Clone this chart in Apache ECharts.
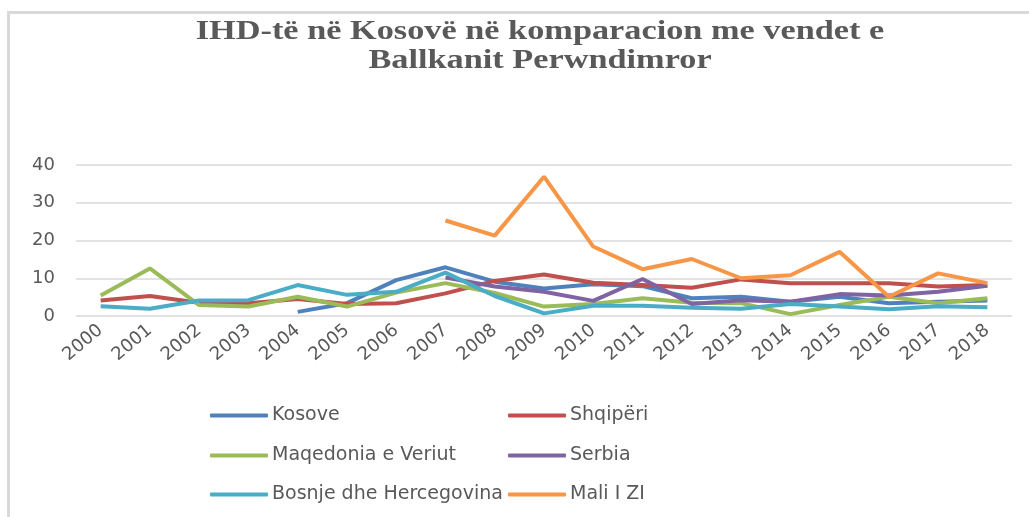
<!DOCTYPE html>
<html>
<head>
<meta charset="utf-8">
<script src="https://cdn.jsdelivr.net/npm/echarts@6/dist/echarts.min.js"></script>
<style>
  html, body { margin: 0; padding: 0; background: #fff; }
  #frame {
    position: absolute; left: 7px; top: 11px; width: 1040px; height: 530px;
    border-left: 3px solid #d9d9d9; border-top: 3px solid #d9d9d9;
  }
  #chart { position: absolute; left: 0; top: 0; width: 1029px; height: 517px; }
</style>
</head>
<body>
<div id="frame"></div>
<div id="chart"></div>
<script>
// vitet
const years = ["2000", "2001", "2002", "2003", "2004", "2005", "2006", "2007", "2008", "2009",
  "2010", "2011", "2012", "2013", "2014", "2015", "2016", "2017", "2018"];

// vlerat e lexuara nga grafiku
const kosove = [null, null, null, null, 1.1, 3.4, 9.5, 12.9, 9.1, 7.3, 8.4, 7.9, 4.7, 5.1, 3.8, 5.1, 3.4, 3.8, 4.1];
const shqiperi = [4.1, 5.3, 3.5, 3.4, 4.5, 3.2, 3.4, 6.0, 9.3, 11.0, 8.8, 8.2, 7.5, 9.7, 8.7, 8.7, 8.7, 7.8, 8.2];
const maqedonia = [5.4, 12.6, 2.9, 2.5, 5.1, 2.5, 6.2, 8.7, 6.1, 2.5, 3.2, 4.7, 3.5, 3.4, 0.5, 2.9, 5.1, 3.4, 4.7];
const serbia = [null, null, null, null, null, null, null, 10.2, 7.8, 6.4, 4.0, 9.8, 3.2, 4.2, 3.8, 5.8, 5.4, 6.4, 8.0];
const bosnje = [2.6, 1.9, 4.1, 4.2, 8.2, 5.6, 6.4, 11.5, 5.3, 0.7, 2.7, 2.7, 2.2, 1.9, 3.2, 2.5, 1.8, 2.6, 2.3];
const maliZi = [null, null, null, null, null, null, null, 25.3, 21.3, 36.9, 18.4, 12.4, 15.1, 10.0, 10.8, 17.0, 5.1, 11.3, 8.7];

const names = ["Kosove", "Shqipëri", "Maqedonia e Veriut", "Serbia", "Bosnje dhe Hercegovina", "Mali I ZI"];
const colors = ["#4F81BD", "#C0504D", "#9BBB59", "#8064A2", "#4BACC6", "#F79646"];
const values = [kosove, shqiperi, maqedonia, serbia, bosnje, maliZi];

const chart = echarts.init(document.getElementById("chart"));

// legjenda: dy kolona, tre rreshta
const legendPos = [
  { left: 210, top: 406 }, { left: 508, top: 406 },
  { left: 210, top: 446 }, { left: 508, top: 446 },
  { left: 210, top: 485 }, { left: 508, top: 485 },
];
const legends = names.map((n, i) => ({
  data: [n],
  left: legendPos[i].left,
  top: legendPos[i].top,
  icon: "roundRect",
  itemWidth: 58,
  itemHeight: 4,
  padding: 0,
  textStyle: { fontFamily: "DejaVu Sans", fontSize: 19, color: "#595959", padding: [0, 0, 0, -1] },
}));

const titleFont = "bold 27px 'Liberation Serif'";

const option = {
  animation: false,
  // titulli, i zgjeruar horizontalisht si ne origjinal
  graphic: [
    {
      type: "text", x: 540, y: 32, scaleX: 1.27, silent: true,
      style: { x: 0, y: 0, text: "IHD-të në Kosovë në komparacion me vendet e", font: titleFont,
        fill: "#595959", align: "center", verticalAlign: "middle" },
    },
    {
      type: "text", x: 540, y: 61, scaleX: 1.27, silent: true,
      style: { x: 0, y: 0, text: "Ballkanit Perwndimror", font: titleFont,
        fill: "#595959", align: "center", verticalAlign: "middle" },
    },
  ],
  legend: legends,
  grid: { left: 76, right: 17, top: 165, bottom: 201 },
  xAxis: {
    type: "category",
    data: years,
    axisLine: { show: false },
    axisTick: { show: false },
    axisLabel: {
      rotate: 40,
      margin: 12,
      fontFamily: "DejaVu Sans",
      fontSize: 18,
      color: "#595959",
    },
  },
  yAxis: {
    type: "value",
    min: 0,
    max: 40,
    interval: 10,
    axisLabel: { fontFamily: "DejaVu Sans", fontSize: 18, color: "#595959", margin: 21 },
    splitLine: { lineStyle: { color: "#d9d9d9", width: 1.5 } },
  },
  series: names.map((n, i) => ({
    name: n,
    type: "line",
    data: values[i],
    symbol: "none",
    lineStyle: { width: 4, color: colors[i] },
    itemStyle: { color: colors[i] },
  })),
};

chart.setOption(option);
</script>
</body>
</html>
